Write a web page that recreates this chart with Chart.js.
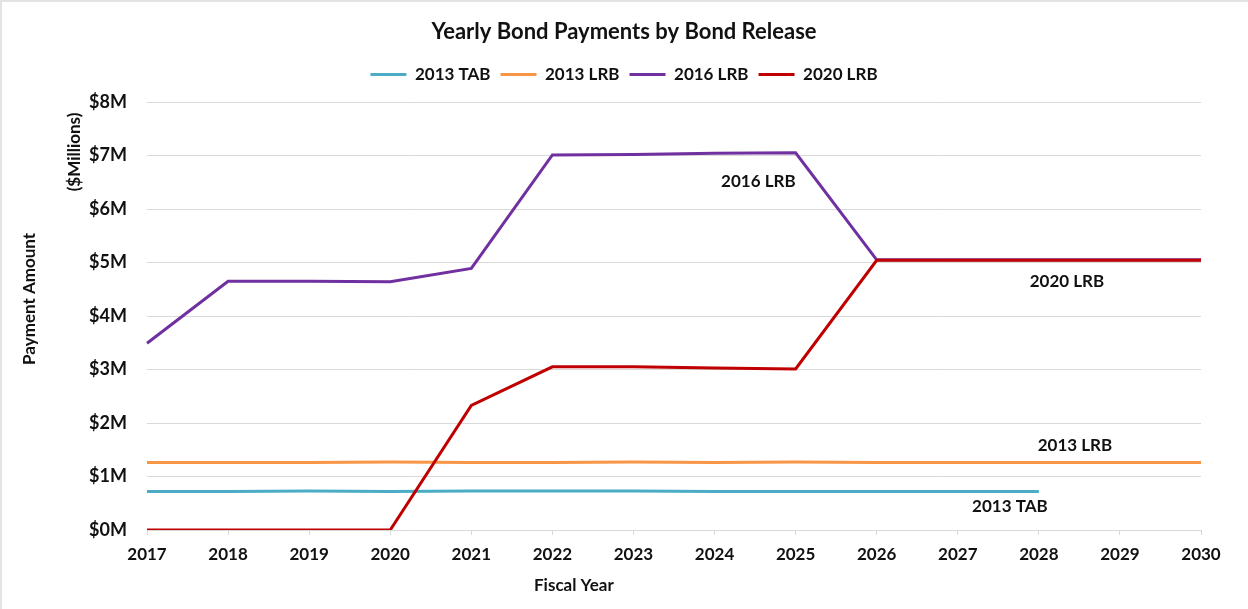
<!DOCTYPE html>
<html>
<head>
<meta charset="utf-8">
<script src="https://cdn.jsdelivr.net/npm/chart.js@4.4.0/dist/chart.umd.min.js"></script>
<style>
  html, body { margin: 0; padding: 0; background: #fff; }
  #frame {
    position: absolute; left: 0; top: 0; width: 1248px; height: 609px;
    box-sizing: border-box; border-top: 2px solid #e3e3e3; border-left: 2px solid #e3e3e3;
  }
  #wrap { position: absolute; left: 0; top: 0; width: 1248px; height: 609px; }
</style>
</head>
<body>
<div id="frame"></div>
<div id="wrap"><canvas id="bondChart" width="1248" height="609"></canvas></div>
<script>
// Fiscal years on the x axis
const years = ['2017', '2018', '2019', '2020', '2021', '2022', '2023',
  '2024', '2025', '2026', '2027', '2028', '2029', '2030'];

// Payments per bond release, $ millions
const tab2013 = [0.72, 0.72, 0.73, 0.72, 0.73, 0.73, 0.73, 0.72, 0.72, 0.72, 0.72, 0.72, null, null];
const lrb2013 = [1.26, 1.26, 1.26, 1.27, 1.26, 1.26, 1.27, 1.26, 1.27, 1.26, 1.26, 1.26, 1.26, 1.26];
const lrb2016 = [3.49, 4.65, 4.65, 4.64, 4.89, 7.01, 7.02, 7.04, 7.05, 5.05, 5.05, 5.05, 5.05, 5.05];
const lrb2020 = [0, 0, 0, 0, 2.33, 3.05, 3.05, 3.03, 3.01, 5.04, 5.04, 5.04, 5.04, 5.04];

const seriesNames = ['2013 TAB', '2013 LRB', '2016 LRB', '2020 LRB'];
const seriesColors = ['#4BACC6', '#F79646', '#7030A0', '#C00000'];

// y ticks in $ millions
const yTicks = [0, 1, 2, 3, 4, 5, 6, 7, 8];

const FONT = 'Lato, "Open Sans", sans-serif';

// Series name labels placed next to a chosen point of each line
const seriesLabels = [
  { ds: 2, idx: 8, dx: 0, dy: 29, align: 'right' },
  { ds: 3, idx: 12, dx: -53, dy: 21, align: 'center' },
  { ds: 1, idx: 12, dx: -45, dy: -17, align: 'center' },
  { ds: 0, idx: 11, dx: -29, dy: 15, align: 'center' }
];

const seriesLabelPlugin = {
  id: 'seriesLabels',
  afterDatasetsDraw(chart) {
    const ctx = chart.ctx;
    ctx.save();
    ctx.font = 'bold 17px ' + FONT;
    ctx.fillStyle = '#111';
    ctx.textBaseline = 'middle';
    seriesLabels.forEach(l => {
      const pt = chart.getDatasetMeta(l.ds).data[l.idx];
      ctx.textAlign = l.align;
      ctx.fillText(chart.data.datasets[l.ds].label, pt.x + l.dx, pt.y + l.dy);
    });
    ctx.restore();
  }
};

// Extra gap under the legend before the plot starts
const legendGapPlugin = {
  id: 'legendGap',
  afterInit(chart) {
    const legend = chart.legend;
    const fit = legend.fit;
    legend.fit = function () {
      fit.call(this);
      this.height += 9;
    };
  }
};

// Axis titles drawn by hand so they can sit off-centre
function rotatedText(ctx, text, x, y) {
  ctx.save();
  ctx.translate(x, y);
  ctx.rotate(-Math.PI / 2);
  ctx.fillText(text, 0, 0);
  ctx.restore();
}

const axisTitlePlugin = {
  id: 'axisTitles',
  afterDraw(chart) {
    const ctx = chart.ctx;
    const a = chart.chartArea;
    ctx.save();
    ctx.fillStyle = '#111';
    ctx.textAlign = 'center';
    ctx.textBaseline = 'middle';
    ctx.font = 'bold 17px ' + FONT;
    ctx.fillText('Fiscal Year', a.left + (a.right - a.left) * 0.405, a.bottom + 56);
    rotatedText(ctx, 'Payment Amount', 30, a.top + (a.bottom - a.top) * 0.46);
    rotatedText(ctx, '($Millions)', 75, a.top + 50);
    ctx.restore();
  }
};

const allSeries = [tab2013, lrb2013, lrb2016, lrb2020];

new Chart(document.getElementById('bondChart'), {
  type: 'line',
  data: {
    labels: years,
    datasets: allSeries.map((values, i) => ({
      label: seriesNames[i],
      data: values,
      borderColor: seriesColors[i],
      backgroundColor: seriesColors[i],
      borderWidth: 3,
      pointRadius: 0,
      tension: 0,
      fill: false,
      order: allSeries.length - i
    }))
  },
  options: {
    responsive: false,
    animation: false,
    layout: { padding: { left: 47, right: 47, top: 10, bottom: 0 } },
    plugins: {
      title: {
        display: true,
        text: 'Yearly Bond Payments by Bond Release',
        color: '#111',
        font: { family: FONT, size: 22, weight: 'bold' },
        padding: { top: 9, bottom: 10.6 }
      },
      legend: {
        position: 'top',
        labels: {
          usePointStyle: true,
          pointStyle: 'line',
          pointStyleWidth: 36,
          color: '#111',
          font: { family: FONT, size: 17, weight: 'bold' },
          padding: 10,
          sort: (a, b) => a.datasetIndex - b.datasetIndex
        }
      },
      tooltip: { enabled: false }
    },
    scales: {
      x: {
        type: 'category',
        offset: false,
        afterFit(scale) { scale.height = 79; },
        grid: { drawOnChartArea: false, drawTicks: true, tickLength: 5, color: '#d9d9d9' },
        border: { display: true, color: '#d9d9d9', width: 1 },
        ticks: {
          color: '#111',
          maxRotation: 0,
          autoSkip: false,
          padding: 9,
          font: { family: FONT, size: 17, weight: 'bold' }
        }
      },
      y: {
        min: 0,
        max: 8,
        afterFit(scale) { scale.width = 100; },
        afterBuildTicks(scale) { scale.ticks = yTicks.map(v => ({ value: v })); },
        grid: { color: '#d9d9d9', drawTicks: false },
        border: { display: false },
        ticks: {
          color: '#111',
          padding: 20,
          font: { family: FONT, size: 18, weight: 'bold' },
          callback: v => '$' + v + 'M'
        }
      }
    }
  },
  plugins: [seriesLabelPlugin, legendGapPlugin, axisTitlePlugin]
});
</script>
</body>
</html>
